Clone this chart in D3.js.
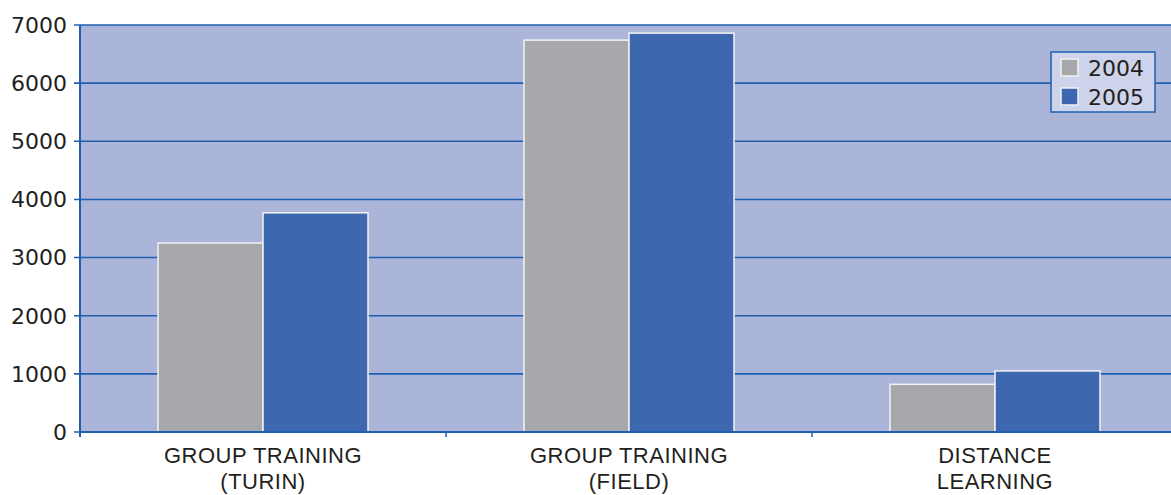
<!DOCTYPE html>
<html>
<head>
<meta charset="utf-8">
<script src="https://cdn.jsdelivr.net/npm/d3@7"></script>
<style>
  body { margin: 0; background: #fff; }
  svg { display: block; font-family: "Liberation Sans", Arial, sans-serif; }
</style>
</head>
<body>
<div id="chart"></div>
<script>
// data
const categories = [['GROUP TRAINING', '(TURIN)'], ['GROUP TRAINING', '(FIELD)'], ['DISTANCE', 'LEARNING']];
const series = ['2004', '2005'];
const values2004 = [3250, 6740, 820];
const values2005 = [3770, 6860, 1050];
const yTicks = [0, 1000, 2000, 3000, 4000, 5000, 6000, 7000];
const colors = ['#a7a8ab', '#3d67ae'];

const margin = {top: 25, right: -7, bottom: 63, left: 80};
const width = 1171 - margin.left - margin.right;
const height = 495 - margin.top - margin.bottom;

const svg = d3.select('#chart').append('svg')
    .attr('width', 1171)
    .attr('height', 495)
    .append('g')
    .attr('transform', 'translate(' + margin.left + ',' + margin.top + ')');

const x0 = d3.scaleBand()
    .domain(d3.range(categories.length))
    .range([0, width])
    .paddingInner(0)
    .paddingOuter(0);

const x1 = d3.scaleBand()
    .domain(series)
    .range([78, x0.bandwidth() - 78]);

const y = d3.scaleLinear()
    .domain([0, 7000])
    .range([height, 0]);

// plot background
svg.append('rect')
    .attr('width', width)
    .attr('height', height)
    .attr('fill', '#abb5da');

// gridlines
svg.append('g')
    .selectAll('line')
    .data(yTicks)
    .join('line')
    .attr('x1', -6)
    .attr('x2', width)
    .attr('y1', d => y(d))
    .attr('y2', d => y(d))
    .attr('stroke', '#1f5fae')
    .attr('stroke-width', 1.6);

// y labels
svg.append('g')
    .selectAll('text')
    .data(yTicks)
    .join('text')
    .attr('x', -13)
    .attr('y', d => y(d))
    .attr('dy', '0.36em')
    .attr('text-anchor', 'end')
    .attr('font-family', '"DejaVu Sans", sans-serif')
    .attr('font-size', 22)
    .attr('fill', '#231f20')
    .text(d => d);

// bars
const rows = categories.map((c, i) => [values2004[i], values2005[i]]);
const groups = svg.append('g')
    .selectAll('g')
    .data(rows)
    .join('g')
    .attr('transform', (d, i) => 'translate(' + x0(i) + ',0)');

groups.selectAll('rect')
    .data(d => d.map((v, j) => ({key: series[j], value: v, j})))
    .join('rect')
    .attr('x', d => x1(d.key))
    .attr('y', d => y(d.value))
    .attr('width', x1.bandwidth())
    .attr('height', d => height - y(d.value))
    .attr('fill', d => colors[d.j])
    .attr('stroke', '#f2f2f2')
    .attr('stroke-width', 1.5);

// axes lines
svg.append('line')
    .attr('x1', 0).attr('x2', 0)
    .attr('y1', 0).attr('y2', height + 5)
    .attr('stroke', '#1f5fae')
    .attr('stroke-width', 2);

svg.append('line')
    .attr('x1', 0).attr('x2', width)
    .attr('y1', height).attr('y2', height)
    .attr('stroke', '#1f5fae')
    .attr('stroke-width', 2);

// x ticks at band boundaries
svg.append('g')
    .selectAll('line')
    .data(d3.range(1, categories.length))
    .join('line')
    .attr('x1', d => x0(d))
    .attr('x2', d => x0(d))
    .attr('y1', height)
    .attr('y2', height + 5)
    .attr('stroke', '#1f5fae')
    .attr('stroke-width', 1.5);

// category labels
const labels = svg.append('g')
    .selectAll('text')
    .data(categories)
    .join('text')
    .attr('x', (d, i) => x0(i) + x0.bandwidth() / 2)
    .attr('y', height + 31)
    .attr('text-anchor', 'middle')
    .attr('font-size', 22)
    .attr('letter-spacing', 0.5)
    .attr('fill', '#231f20');

labels.selectAll('tspan')
    .data(d => d)
    .join('tspan')
    .attr('x', function() { return this.parentNode.getAttribute('x'); })
    .attr('dy', (d, i) => i ? 26 : 0)
    .text(d => d);

// legend
const legend = svg.append('g')
    .attr('transform', 'translate(' + (1051 - margin.left) + ',' + (52 - margin.top) + ')');

legend.append('rect')
    .attr('width', 104)
    .attr('height', 60)
    .attr('fill', '#cdd3ea')
    .attr('stroke', '#1f5fae')
    .attr('stroke-width', 1.5);

const items = legend.selectAll('g.item')
    .data(series)
    .join('g')
    .attr('class', 'item')
    .attr('transform', (d, i) => 'translate(10,' + (7 + i * 29) + ')');

items.append('rect')
    .attr('width', 17)
    .attr('height', 17)
    .attr('fill', (d, i) => colors[i])
    .attr('stroke', '#f2f2f2')
    .attr('stroke-width', 1.5);

items.append('text')
    .attr('x', 27)
    .attr('y', 9)
    .attr('dy', '0.36em')
    .attr('font-family', '"DejaVu Sans", sans-serif')
    .attr('font-size', 22)
    .attr('fill', '#231f20')
    .text(d => d);
</script>
</body>
</html>
